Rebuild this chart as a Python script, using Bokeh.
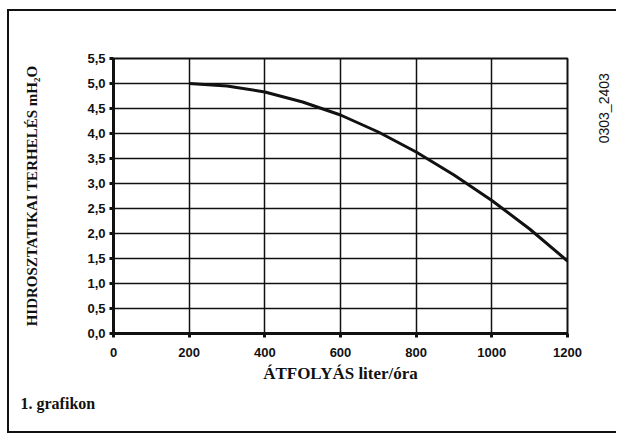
import math
from bokeh.plotting import figure
from bokeh.layouts import row
from bokeh.models import Range1d, FixedTicker, Title, Label
from bokeh.embed import file_html
from bokeh.resources import INLINE

# data
flow = [200, 300, 400, 500, 600, 700, 800, 900, 1000, 1100, 1200]
head = [5.0, 4.95, 4.83, 4.63, 4.37, 4.03, 3.63, 3.17, 2.66, 2.09, 1.45]
x_ticks = [0, 200, 400, 600, 800, 1000, 1200]
y_ticks = [0.0, 0.5, 1.0, 1.5, 2.0, 2.5, 3.0, 3.5, 4.0, 4.5, 5.0, 5.5]
y_tick_labels = ["0,0", "0,5", "1,0", "1,5", "2,0", "2,5", "3,0", "3,5", "4,0", "4,5", "5,0", "5,5"]
x_title = "ÁTFOLYÁS liter/óra"
y_title = "HIDROSZTATIKAI TERHELÉS mH₂O"
caption = "1. grafikon"
code = "0303_2403"

H = 420
p = figure(width=585, height=H, output_backend="svg", toolbar_location=None,
           x_range=Range1d(0, 1200), y_range=Range1d(0, 5.5),
           min_border_left=104, min_border_right=27, min_border_top=47, min_border_bottom=H - 322)
p.background_fill_color = "white"
p.border_fill_color = "white"
p.outline_line_color = "#111111"
p.outline_line_width = 2

p.xaxis.ticker = FixedTicker(ticks=x_ticks)
p.yaxis.ticker = FixedTicker(ticks=y_ticks)
p.yaxis.major_label_overrides = {t: l for t, l in zip(y_ticks, y_tick_labels)}
p.xgrid.ticker = FixedTicker(ticks=x_ticks)
p.ygrid.ticker = FixedTicker(ticks=y_ticks)
for g in (p.xgrid, p.ygrid):
    g.grid_line_color = "#111111"
    g.grid_line_width = 1.5
    g.grid_line_alpha = 1.0

for ax in (p.xaxis, p.yaxis):
    ax.axis_line_color = "#111111"
    ax.axis_line_width = 3
    ax.major_tick_line_color = "#111111"
    ax.major_tick_line_width = 3
    ax.major_tick_out = 4
    ax.major_tick_in = 0
    ax.minor_tick_line_color = None
    ax.major_label_text_font = "Liberation Sans"
    ax.major_label_text_font_style = "bold"
    ax.major_label_text_font_size = "13px"
    ax.major_label_text_color = "#111111"
    ax.axis_label_text_font = "Liberation Serif"
    ax.axis_label_text_font_style = "bold"
    ax.axis_label_text_color = "#111111"

p.xaxis.axis_label = x_title
p.xaxis.axis_label_text_font_size = "17px"
p.xaxis.major_label_standoff = 10
p.xaxis.axis_label_standoff = 4
p.yaxis.axis_label = y_title
p.yaxis.axis_label_text_font_size = "15px"
p.yaxis.major_label_standoff = 4
p.yaxis.axis_label_standoff = 44

p.line(flow, head, line_color="#111111", line_width=3)

p.add_layout(Title(text=caption, align="left", offset=-93, standoff=14,
                   text_font="Liberation Serif", text_font_style="bold",
                   text_font_size="16px", text_color="#111111"), "below")

# narrow side panel holding the drawing code
side = figure(width=22, height=H, output_backend="svg", toolbar_location=None,
              x_range=Range1d(0, 1), y_range=Range1d(0, 1),
              min_border_left=0, min_border_right=0, min_border_top=0, min_border_bottom=0)
side.axis.visible = False
side.grid.visible = False
side.outline_line_color = None
side.background_fill_color = "white"
side.border_fill_color = "white"
side.add_layout(Label(x=0.41, y=1 - 76 / H, text=code, text_font="Liberation Sans",
                      text_font_size="14px", text_color="#111111", angle=math.pi / 2,
                      text_baseline="middle", text_align="center"))

layout = row(p, side, spacing=0)
layout.styles = {"margin-left": "7px", "margin-top": "9px", "overflow": "hidden",
                 "border-left": "2px solid #111111", "border-top": "2px solid #111111",
                 "border-bottom": "2px solid #111111"}

open("out.html", "w").write(file_html(layout, INLINE))
